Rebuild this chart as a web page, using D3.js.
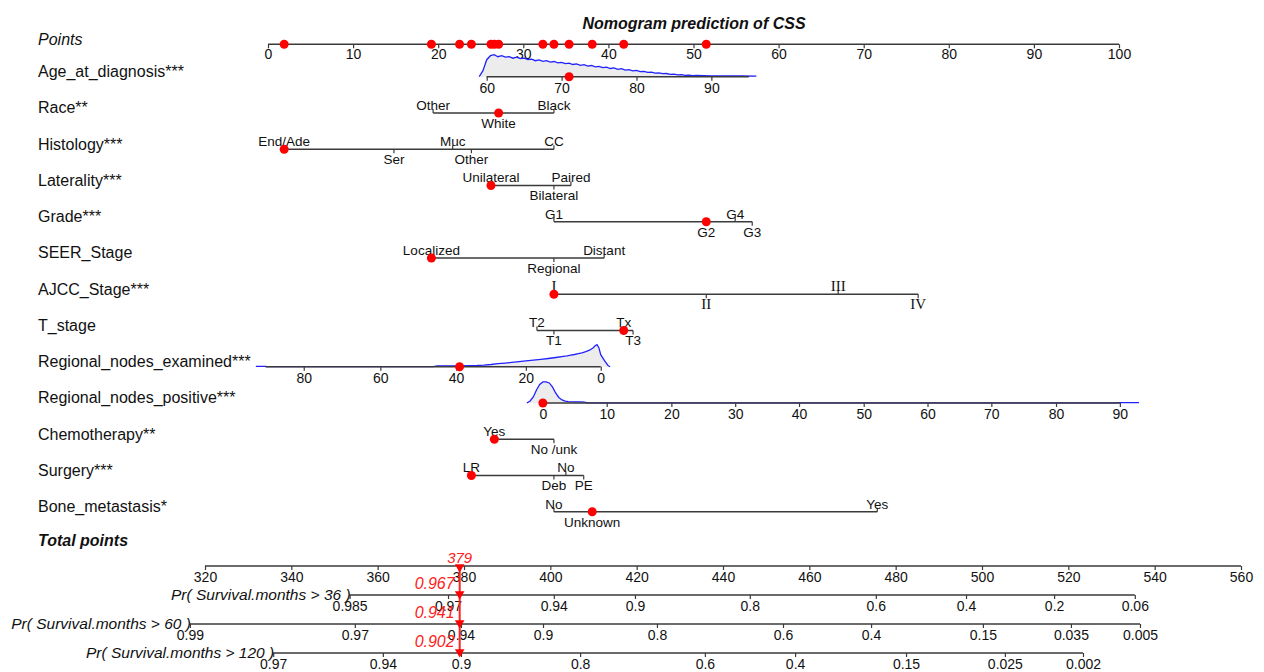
<!DOCTYPE html>
<html>
<head>
<meta charset="utf-8">
<script src="https://cdn.jsdelivr.net/npm/d3@7"></script>
<style>
body { margin: 0; background: #fff; }
</style>
</head>
<body>
<div id="chart"></div>
<script>
const width = 1264;
const height = 672;
const fontFamily = '"Liberation Sans", Arial, sans-serif';
const lineColor = '#3a3a3a';
const textColor = '#111';

const title = 'Nomogram prediction of CSS';

const rowLabels = ['Age_at_diagnosis***', 'Race**', 'Histology***', 'Laterality***', 'Grade***',
    'SEER_Stage', 'AJCC_Stage***', 'T_stage', 'Regional_nodes_examined***',
    'Regional_nodes_positive***', 'Chemotherapy**', 'Surgery***', 'Bone_metastasis*'];

const pointTicks = [0, 10, 20, 30, 40, 50, 60, 70, 80, 90, 100];

// continuous predictors: tick values and the points they are worth
const ageTicks = [60, 70, 80, 90];
const agePoints = [25.7, 34.5, 43.3, 52.1];
const ageRange = [60, 95];
const ageDensity = [[59, 0], [59.5, 6], [60, 17], [60.5, 21], [61, 22], [61.5, 20], [62, 21], [62.5, 19.5],
    [63, 20], [63.5, 18.5], [64, 19.5], [64.5, 18], [65, 18.5], [65.5, 17], [66, 17.5], [66.5, 16],
    [67, 16.8], [67.5, 15.3], [68, 16], [68.5, 14.6], [69, 15.2], [69.5, 13.8], [70, 14.4], [70.5, 13],
    [71, 13.6], [71.5, 12.2], [72, 12.8], [72.5, 11.4], [73, 12], [73.5, 10.6], [74, 11.2], [74.5, 9.8],
    [75, 10.4], [75.5, 9], [76, 9.6], [76.5, 8.2], [77, 8.8], [77.5, 7.4], [78, 8], [78.5, 6.6],
    [79, 7.1], [79.5, 5.8], [80, 6.3], [80.5, 5], [81, 5.4], [81.5, 4.3], [82, 4.6], [82.5, 3.6],
    [83, 3.9], [83.5, 3], [84, 3.2], [84.5, 2.4], [85, 2.6], [85.5, 1.9], [86, 2], [86.5, 1.4],
    [87, 1.5], [87.5, 1.1], [88, 1.2], [89, 1], [90, 0.9], [92, 0.8], [94, 0.7], [96, 0.5]];

const rneTicks = [80, 60, 40, 20, 0];
const rnePoints = [4.2, 13.2, 22.1, 30.3, 39.1];
const rneRange = [90, 0];
const rneDensity = [[92.5, 0.3], [90, 0.3], [89.5, 0], [46, 0], [45, 0.9], [40, 0.9], [36, 1], [34, 1.2],
    [32, 1.6], [30, 2.2], [28, 3], [26, 3.6], [24, 4.3], [22, 5], [20, 5.8], [18, 6.5], [16, 7.3],
    [14, 8.2], [12, 9.2], [10, 10.3], [9, 10.8], [8, 11.5], [7, 12.2], [6, 13], [5, 13.8], [4, 15],
    [3, 16.5], [2, 19], [1.5, 21], [1, 22], [0.5, 19], [0, 12], [-1, 6], [-2, 1], [-2.5, 0]];

const rnpTicks = [0, 10, 20, 30, 40, 50, 60, 70, 80, 90];
const rnpPoints = [32.3, 39.8, 47.4, 54.9, 62.4, 70.0, 77.5, 85.0, 92.6, 100.1];
const rnpRange = [0, 90];
const rnpDensity = [[-2.5, 0], [-2, 2], [-1.5, 6], [-1, 13], [-0.5, 18.5], [0, 21], [0.5, 21], [1, 20],
    [1.5, 16], [2, 10], [2.5, 5.5], [3, 3], [3.5, 1.8], [4, 1.3], [5, 1.1], [6, 1], [6.5, 0.9], [7, 0],
    [89.5, 0], [90, 0.3], [93, 0.3]];

// categorical predictors: levels and points
const raceLevels = ['Other', 'White', 'Black'];
const racePoints = [19.4, 27.1, 33.6];
const histLevels = ['End/Ade', 'Ser', 'Muc', 'Other', 'CC'];
const histPoints = [1.9, 14.8, 21.7, 23.9, 33.6];
const latLevels = ['Unilateral', 'Bilateral', 'Paired'];
const latPoints = [26.2, 33.6, 35.6];
const gradeLevels = ['G1', 'G2', 'G4', 'G3'];
const gradePoints = [33.6, 51.5, 54.9, 56.9];
const seerLevels = ['Localized', 'Regional', 'Distant'];
const seerPoints = [19.2, 33.6, 39.5];
const ajccLevels = ['I', 'II', 'III', 'IV'];
const ajccPoints = [33.6, 51.5, 67.0, 76.4];
const tLevels = ['T2', 'T1', 'Tx', 'T3'];
const tPoints = [31.6, 33.6, 41.8, 42.9];
const chemoLevels = ['Yes', 'No /unk'];
const chemoPoints = [26.6, 33.6];
const surgLevels = ['LR', 'Deb', 'No', 'PE'];
const surgPoints = [23.9, 33.6, 35.0, 37.1];
const boneLevels = ['No', 'Unknown', 'Yes'];
const bonePoints = [33.6, 38.1, 71.6];

// the patient marked in red
const patient = [71, 'White', 'End/Ade', 'Unilateral', 'G2', 'Localized', 'I', 'Tx', 39, 0, 'Yes', 'LR', 'Unknown'];
const patientTotal = 379;
const patientProb = ['0.967', '0.941', '0.902'];

// total points and survival probability axes
const totalTicks = [320, 340, 360, 380, 400, 420, 440, 460, 480, 500, 520, 540, 560];
const prLabels = ['Pr( Survival.months > 36 )', 'Pr( Survival.months > 60 )', 'Pr( Survival.months > 120 )'];
const pr36Ticks = ['0.985', '0.97', '0.94', '0.9', '0.8', '0.6', '0.4', '0.2', '0.06'];
const pr36Totals = [353.5, 376.3, 400.8, 419.6, 446.2, 475.4, 496.3, 516.7, 535.4];
const pr60Ticks = ['0.99', '0.97', '0.94', '0.9', '0.8', '0.6', '0.4', '0.15', '0.035', '0.005'];
const pr60Totals = [316.5, 354.7, 379.3, 398.3, 424.7, 453.9, 474.3, 500.2, 520.6, 536.6];
const pr120Ticks = ['0.97', '0.94', '0.9', '0.8', '0.6', '0.4', '0.15', '0.025', '0.002'];
const pr120Totals = [335.8, 361.2, 379.3, 406.9, 435.8, 456.7, 482.4, 505.3, 523.4];

const predictors = [
    { type: 'cont', ticks: ageTicks, points: agePoints, range: ageRange, density: ageDensity },
    { type: 'cat', levels: raceLevels, points: racePoints },
    { type: 'cat', levels: histLevels, points: histPoints },
    { type: 'cat', levels: latLevels, points: latPoints },
    { type: 'cat', levels: gradeLevels, points: gradePoints },
    { type: 'cat', levels: seerLevels, points: seerPoints },
    { type: 'cat', levels: ajccLevels, points: ajccPoints, serif: true },
    { type: 'cat', levels: tLevels, points: tPoints },
    { type: 'cont', ticks: rneTicks, points: rnePoints, range: rneRange, density: rneDensity },
    { type: 'cont', ticks: rnpTicks, points: rnpPoints, range: rnpRange, density: rnpDensity },
    { type: 'cat', levels: chemoLevels, points: chemoPoints },
    { type: 'cat', levels: surgLevels, points: surgPoints },
    { type: 'cat', levels: boneLevels, points: bonePoints }
];
const prAxes = [
    { ticks: pr36Ticks, totals: pr36Totals },
    { ticks: pr60Ticks, totals: pr60Totals },
    { ticks: pr120Ticks, totals: pr120Totals }
];

const pointsX = d3.scaleLinear().domain([0, 100]).range([268, 1119]);
const totalX = d3.scaleLinear().domain([320, 560]).range([205, 1241]);
const densityH = d3.scaleLinear()
    .domain([0, d3.max([ageDensity, rneDensity, rnpDensity].flat(), d => d[1])])
    .range([0, 22]);

const pointsY = 44.3;
const rowY = i => 76.7 + 36.25 * i;
const totalY = 566;
const prY = [595, 624, 653];

const svg = d3.select('#chart').append('svg')
    .attr('width', width)
    .attr('height', height)
    .style('font-family', fontFamily);

function hLine(g, x1, x2, y) {
    g.append('line')
        .attr('x1', x1).attr('x2', x2)
        .attr('y1', y).attr('y2', y)
        .attr('stroke', lineColor)
        .attr('stroke-width', 1.6);
}

function styleAxis(g) {
    g.select('.domain').remove();
    g.selectAll('.tick line').attr('stroke', lineColor).attr('stroke-width', 1.2);
    g.selectAll('.tick text')
        .attr('font-size', '14px')
        .attr('font-family', fontFamily)
        .attr('fill', textColor);
}

function rowLabel(text, y, style) {
    svg.append('text')
        .attr('x', 38)
        .attr('y', y)
        .attr('font-size', '16px')
        .attr('font-style', style && style.italic ? 'italic' : null)
        .attr('font-weight', style && style.bold ? 'bold' : null)
        .attr('fill', textColor)
        .text(text);
}

function redDot(x, y) {
    svg.append('circle')
        .attr('cx', x).attr('cy', y)
        .attr('r', 4.5)
        .attr('fill', '#ff0000');
}

// title
svg.append('text')
    .attr('x', 694)
    .attr('y', 29)
    .attr('text-anchor', 'middle')
    .attr('font-size', '16px')
    .attr('font-weight', 'bold')
    .attr('font-style', 'italic')
    .attr('fill', textColor)
    .text(title);

// points axis
rowLabel('Points', pointsY + 1, { italic: true });
hLine(svg, pointsX(0), pointsX(100), pointsY);
svg.append('g')
    .attr('transform', `translate(0,${pointsY})`)
    .call(d3.axisBottom(pointsX).tickValues(pointTicks).tickSize(4).tickPadding(1))
    .call(styleAxis);

const patientPoints = [];

predictors.forEach((p, i) => {
    const y = rowY(i);
    rowLabel(rowLabels[i], y + 0.5);
    const g = svg.append('g');

    if (p.type === 'cont') {
        const toPoints = d3.scaleLinear().domain(p.ticks).range(p.points);
        const toX = v => pointsX(toPoints(v));

        // density under the axis line
        g.append('path')
            .datum(p.density)
            .attr('d', d3.area().x(d => toX(d[0])).y0(y).y1(d => y - densityH(d[1])))
            .attr('fill', '#ececec');
        g.append('path')
            .datum(p.density)
            .attr('d', d3.line().x(d => toX(d[0])).y(d => y - densityH(d[1])))
            .attr('fill', 'none')
            .attr('stroke', '#2222ff')
            .attr('stroke-width', 1.3);

        hLine(g, toX(p.range[0]), toX(p.range[1]), y);
        const axisScale = d3.scaleLinear().domain(p.ticks).range(p.ticks.map(toX));
        g.append('g')
            .attr('transform', `translate(0,${y})`)
            .call(d3.axisBottom(axisScale).tickValues(p.ticks).tickFormat(d3.format('d')).tickSize(4).tickPadding(2))
            .call(styleAxis);

        patientPoints.push(toPoints(patient[i]));
    } else {
        const xs = p.points.map(pointsX);
        hLine(g, d3.min(xs), d3.max(xs), y);
        // labels alternate above / below in order of points
        const order = d3.range(p.levels.length).sort((a, b) => p.points[a] - p.points[b]);
        order.forEach((k, rank) => {
            const above = rank % 2 === 0;
            g.append('line')
                .attr('x1', xs[k]).attr('x2', xs[k])
                .attr('y1', y).attr('y2', above ? y - 4 : y + 4)
                .attr('stroke', lineColor)
                .attr('stroke-width', 1.2);
            g.append('text')
                .attr('x', xs[k])
                .attr('y', above ? y - 3 : y + 15)
                .attr('text-anchor', 'middle')
                .attr('font-size', p.serif ? '15px' : '13.5px')
                .attr('font-family', p.serif ? '"Liberation Serif", serif' : null)
                .attr('fill', textColor)
                .text(p.levels[k]);
        });
        patientPoints.push(p.points[p.levels.indexOf(patient[i])]);
    }
});

// red dots: on each predictor row and on the points axis
predictors.forEach((p, i) => redDot(pointsX(patientPoints[i]), rowY(i)));
patientPoints.forEach(v => redDot(pointsX(v), pointsY));

// total points axis
rowLabel('Total points', 546, { italic: true, bold: true });
hLine(svg, totalX(320), totalX(560), totalY);
svg.append('g')
    .attr('transform', `translate(0,${totalY})`)
    .call(d3.axisBottom(totalX).tickValues(totalTicks).tickSize(4).tickPadding(2))
    .call(styleAxis);

// survival probability axes
prAxes.forEach((a, i) => {
    const y = prY[i];
    const x0 = totalX(a.totals[0]);
    hLine(svg, x0, totalX(a.totals[a.totals.length - 1]), y);
    svg.append('g')
        .attr('transform', `translate(0,${y})`)
        .call(d3.axisBottom(totalX).tickValues(a.totals).tickFormat((d, k) => a.ticks[k]).tickSize(4).tickPadding(2))
        .call(styleAxis);
    svg.append('text')
        .attr('x', x0 + 1)
        .attr('y', y + 5)
        .attr('text-anchor', 'end')
        .attr('font-size', '15.5px')
        .attr('font-style', 'italic')
        .attr('fill', textColor)
        .text(prLabels[i]);
});

// patient's total and predicted probabilities
const px = totalX(patientTotal);
svg.append('line')
    .attr('x1', px).attr('x2', px)
    .attr('y1', totalY).attr('y2', prY[2] + 2)
    .attr('stroke', '#ff2020')
    .attr('stroke-width', 2);
const arrow = d3.symbol().type(d3.symbolTriangle).size(40);
[totalY + 1].concat(prY.map(y => y - 1)).forEach(y => {
    svg.append('path')
        .attr('d', arrow)
        .attr('transform', `translate(${px},${y}) rotate(180)`)
        .attr('fill', '#ff0000');
});
svg.append('text')
    .attr('x', px)
    .attr('y', totalY - 3)
    .attr('text-anchor', 'middle')
    .attr('font-size', '15px')
    .attr('font-style', 'italic')
    .attr('fill', '#ff2020')
    .text(patientTotal);
patientProb.forEach((v, i) => {
    svg.append('text')
        .attr('x', px - 5)
        .attr('y', prY[i] - 6)
        .attr('text-anchor', 'end')
        .attr('font-size', '16px')
        .attr('font-style', 'italic')
        .attr('fill', '#ff2020')
        .text(v);
});
</script>
</body>
</html>
